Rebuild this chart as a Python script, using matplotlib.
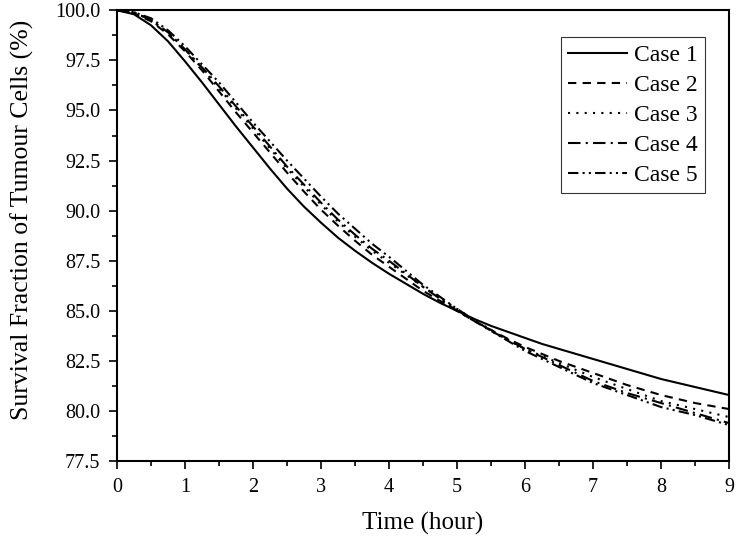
import numpy as np
import matplotlib
matplotlib.use('Agg')
import matplotlib.pyplot as plt
from matplotlib.ticker import MultipleLocator, FormatStrFormatter

plt.rcParams['font.family'] = ['Liberation Serif', 'DejaVu Serif']

# -----------------------------
# Data (every 0.25 h)
# -----------------------------
time_h = [0, 0.25, 0.5, 0.75, 1, 1.25, 1.5, 1.75, 2, 2.25, 2.5, 2.75, 3, 3.25, 3.5, 3.75,
          4, 4.25, 4.5, 4.75, 5, 5.25, 5.5, 5.75, 6, 6.25, 6.5, 6.75, 7, 7.25, 7.5, 7.75,
          8, 8.25, 8.5, 8.75, 9]
case1 = [100, 99.8, 99.25, 98.45, 97.45, 96.4, 95.3, 94.2, 93.15, 92.1, 91.1, 90.2, 89.4,
         88.65, 88.0, 87.4, 86.85, 86.35, 85.85, 85.4, 85.0, 84.6, 84.25, 83.95, 83.65,
         83.35, 83.1, 82.85, 82.6, 82.35, 82.1, 81.85, 81.6, 81.4, 81.2, 81.0, 80.8]
case2 = [100, 99.85, 99.45, 98.8, 97.95, 97.0, 95.95, 94.9, 93.9, 92.9, 91.9, 90.95, 90.05,
         89.25, 88.5, 87.8, 87.2, 86.6, 86.0, 85.5, 85.0, 84.5, 84.05, 83.6, 83.2,
         82.85, 82.5, 82.2, 81.9, 81.6, 81.3, 81.05, 80.8, 80.6, 80.4, 80.25, 80.1]
case3 = [100, 99.9, 99.5, 98.9, 98.05, 97.1, 96.1, 95.1, 94.1, 93.1, 92.1, 91.2, 90.3,
         89.45, 88.7, 88.0, 87.4, 86.8, 86.2, 85.65, 85.1, 84.55, 84.05, 83.55, 83.1,
         82.75, 82.4, 82.05, 81.7, 81.4, 81.1, 80.8, 80.5, 80.3, 80.1, 79.9, 79.7]
case4 = [100, 99.9, 99.5, 98.9, 98.05, 97.15, 96.2, 95.2, 94.2, 93.2, 92.2, 91.3, 90.4,
         89.55, 88.8, 88.1, 87.5, 86.85, 86.2, 85.6, 85.0, 84.5, 84.0, 83.55, 83.1,
         82.7, 82.3, 81.9, 81.5, 81.2, 80.9, 80.65, 80.4, 80.15, 79.9, 79.65, 79.4]
case5 = [100, 99.9, 99.6, 99.0, 98.2, 97.3, 96.4, 95.4, 94.4, 93.45, 92.5, 91.6, 90.7,
         89.85, 89.1, 88.35, 87.7, 87.0, 86.3, 85.7, 85.1, 84.55, 84.0, 83.5, 83.0,
         82.6, 82.2, 81.8, 81.4, 81.1, 80.8, 80.5, 80.2, 80.0, 79.8, 79.55, 79.3]
labels = ['Case 1', 'Case 2', 'Case 3', 'Case 4', 'Case 5']

styles = ['-', (0, (4, 3)), (0, (1, 3)), (0, (6, 2.5, 1, 2.5)), (0, (5, 2, 1, 2, 1, 2))]

fig = plt.figure(figsize=(7.36, 5.4), dpi=100)
ax = fig.add_axes([0.159, 0.146, 0.8315, 0.835])

for vals, lab, ls in zip([case1, case2, case3, case4, case5], labels, styles):
    ax.plot(time_h, vals, color='black', lw=1.5, linestyle=ls, label=lab)

ax.set_xlim(0, 9)
ax.set_ylim(77.5, 100)
ax.xaxis.set_major_locator(MultipleLocator(1))
ax.xaxis.set_minor_locator(MultipleLocator(0.5))
ax.yaxis.set_major_locator(MultipleLocator(2.5))
ax.yaxis.set_minor_locator(MultipleLocator(1.25))
ax.yaxis.set_major_formatter(FormatStrFormatter('%.1f'))
ax.tick_params(which='both', direction='out', top=False, right=False, labelsize=14.5, width=1.2)
ax.tick_params(which='major', length=6, pad=6)
ax.tick_params(which='minor', length=3.5)
for sp in ax.spines.values():
    sp.set_linewidth(1.5)

ax.set_xlabel('Time (hour)', fontsize=18, labelpad=11)
ax.set_ylabel('Survival Fraction of Tumour Cells (%)', fontsize=18.5)
ax.yaxis.set_label_coords(-0.135, 0.535)

leg = ax.legend(loc='upper right', bbox_to_anchor=(0.961, 0.94), fontsize=17,
                frameon=True, fancybox=False, edgecolor='black', handlelength=2.5,
                handletextpad=0.3, labelspacing=0.36, borderpad=0.3, borderaxespad=0)
leg.get_frame().set_linewidth(0.8)

fig.savefig('out.png', dpi=100)
